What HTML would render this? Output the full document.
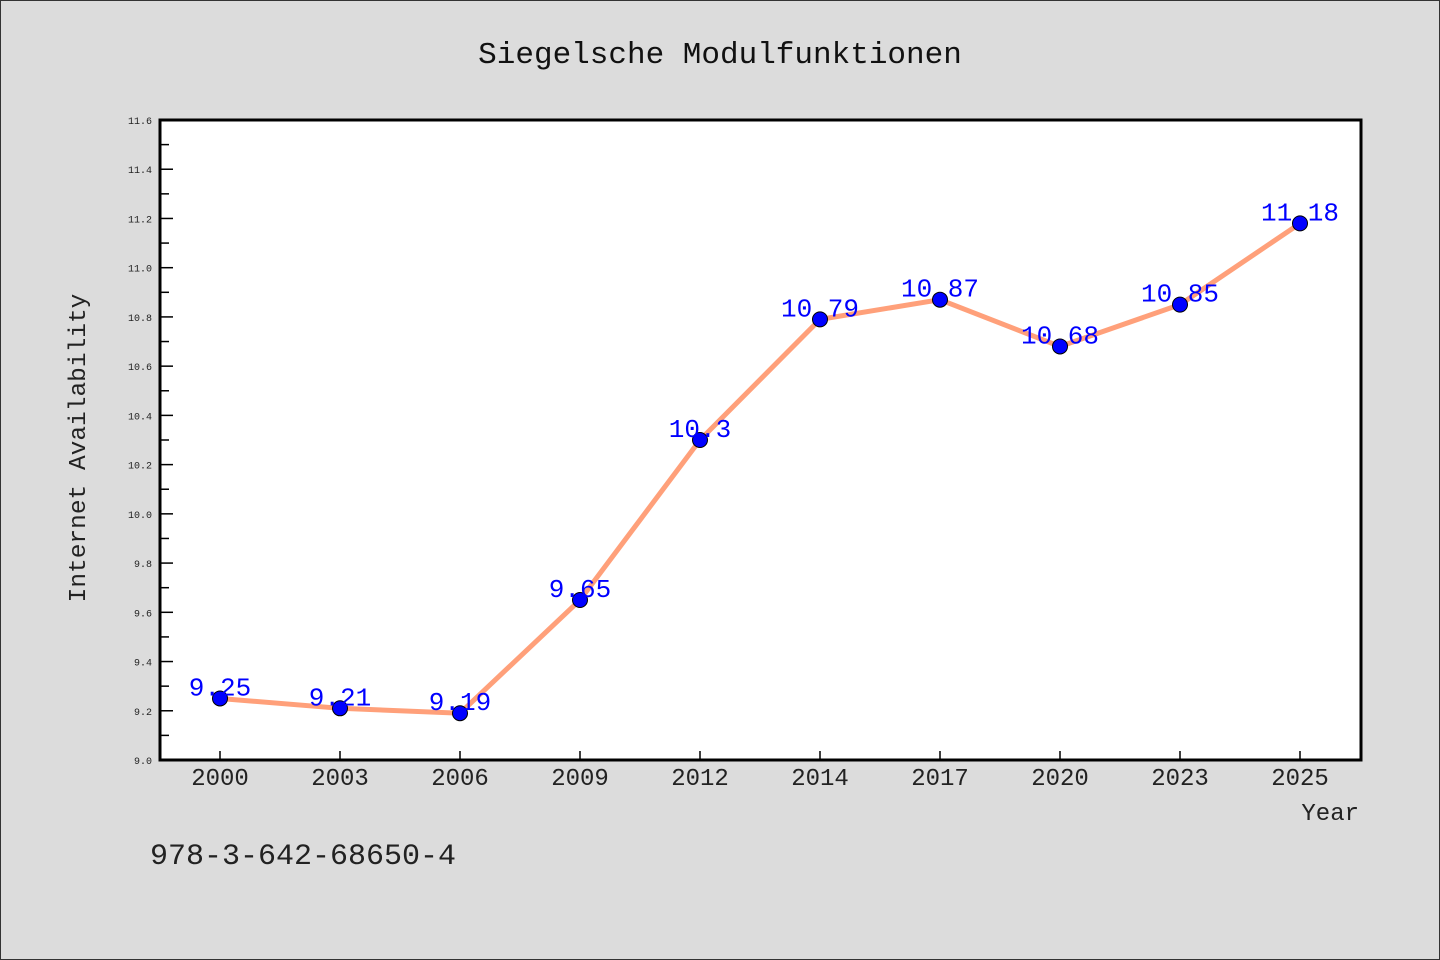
<!DOCTYPE html>
<html><head><meta charset="utf-8"><style>
html,body{margin:0;padding:0;background:#dcdcdc;}
svg{display:block;font-family:"WenQuanYi Zen Hei Mono","Liberation Mono",monospace;}
</style></head><body>
<svg id="chart" width="1440" height="960">
<rect x="0.5" y="0.5" width="1439" height="959" fill="#dcdcdc" stroke="#333"/>
<text x="720" y="63" font-size="31" text-anchor="middle" fill="#111">Siegelsche Modulfunktionen</text>
<rect x="160" y="120" width="1201" height="640" fill="#fff"/>
<g id="grid"></g>
<g id="marks"></g>
<rect x="160" y="120" width="1201" height="640" fill="none" stroke="#000" stroke-width="3"/>
<text transform="translate(85,448) rotate(-90)" font-size="24.5" text-anchor="middle" fill="#222">Internet Availability</text>
<text x="1359" y="820" font-size="24" text-anchor="end" fill="#222">Year</text>
<text x="150" y="864" font-size="30" fill="#222">978-3-642-68650-4</text>
</svg>
<script>
const categories=["2000","2003","2006","2009","2012","2014","2017","2020","2023","2025"];
const values=[9.25,9.21,9.19,9.65,10.3,10.79,10.87,10.68,10.85,11.18];
const valueLabels=["9.25","9.21","9.19","9.65","10.3","10.79","10.87","10.68","10.85","11.18"];
const yTicks=["9.0","9.2","9.4","9.6","9.8","10.0","10.2","10.4","10.6","10.8","11.0","11.2","11.4","11.6"];
const yMin=9.0,yMax=11.6;
const L=160,R=1360,T=120,B=760;
const ns="http://www.w3.org/2000/svg";
function x(i){return L+(R-L)/categories.length*(i+0.5);}
function y(v){return B-(v-yMin)/(yMax-yMin)*(B-T);}
function mk(tag,attrs,parent){const e=document.createElementNS(ns,tag);for(const k in attrs)e.setAttribute(k,attrs[k]);parent.appendChild(e);return e;}
const grid=document.getElementById('grid'),marks=document.getElementById('marks');
yTicks.forEach((t,i)=>{
 const v=parseFloat(t),yy=y(v);
 const tk=mk('line',{x1:L,x2:L+13,y1:yy,y2:yy,stroke:'#000','stroke-width':1.5},grid);
 
 
 const lb=mk('text',{x:L-8,y:yy+4,'font-size':10,'text-anchor':'end',fill:'#222'},grid);
 lb.textContent=t;
 
 
 if(i<yTicks.length-1){
  const ym=y(v+0.1);
  const mt=mk('line',{x1:L,x2:L+9,y1:ym,y2:ym,stroke:'#000','stroke-width':1.5},grid);
  
  
 }
});
categories.forEach((c,i)=>{
 const xx=x(i);
 const tk=mk('line',{x1:xx,x2:xx,y1:B,y2:B-9,stroke:'#000','stroke-width':1.5},grid);
 
 
 const lb=mk('text',{x:xx,y:B+25,'font-size':24,'text-anchor':'middle',fill:'#222'},grid);
 lb.textContent=c;
 
 
});
const pl=mk('polyline',{points:values.map((v,i)=>x(i)+','+y(v)).join(' '),fill:'none',stroke:'#ffa07a','stroke-width':5},marks);


values.forEach((v,i)=>{
 const c=mk('circle',{cx:x(i),cy:y(v),r:7.5,fill:'#0000ff',stroke:'#000','stroke-width':1},marks);
 
 
});
values.forEach((v,i)=>{
 const t=mk('text',{x:x(i),y:y(v)-3,'font-size':26,'text-anchor':'middle',fill:'#0000ff'},marks);
 t.textContent=valueLabels[i];
 
 
});
</script>
</body></html>
